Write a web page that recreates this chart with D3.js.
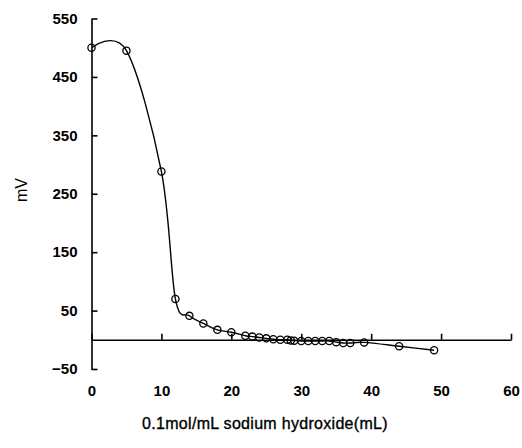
<!DOCTYPE html>
<html>
<head>
<meta charset="utf-8">
<script src="https://cdn.jsdelivr.net/npm/d3@7"></script>
<style>
  body { margin: 0; background: #fff; }
  svg { display: block; }
  .tick text, .label { font-family: "Liberation Sans", Arial, sans-serif; fill: #000; }
</style>
</head>
<body>
<svg id="chart" width="522" height="448"></svg>
<script>
// Titration curve: volume of NaOH added (mL) vs electrode potential (mV)
const volume = [0, 5, 10, 12, 14, 16, 18, 20, 22, 23, 24, 25, 26, 27, 28, 28.5, 29,
                30, 31, 32, 33, 34, 35, 36, 37, 39, 44, 49];
const potential = [500, 495, 288, 70, 41, 28, 17, 13, 7, 5.5, 4, 2.5, 1, 0, 0, -1, -1.5,
                   -2, -2, -2, -2, -2, -4, -5.5, -5.5, -4.5, -11, -18];
const xTicks = [0, 10, 20, 30, 40, 50, 60];
const yTicks = [-50, 50, 150, 250, 350, 450, 550];
const xTitle = "0.1mol/mL sodium hydroxide(mL)";
const yTitle = "mV";

const svg = d3.select("#chart");
const x = d3.scaleLinear().domain([0, 60]).range([91.5, 511]);
const y = d3.scaleLinear().domain([-50, 550]).range([369, 18.5]);

const points = volume.map((v, i) => [v, potential[i]]);

// y axis: ticks point inward
const yAxis = svg.append("g")
  .attr("transform", `translate(${x(0)},0)`)
  .call(d3.axisLeft(y).tickValues(yTicks).tickFormat(d3.format("d"))
    .tickSizeInner(-6).tickSizeOuter(0).tickPadding(14));
yAxis.select(".domain").attr("stroke", "#000").attr("stroke-width", 1.6);
yAxis.selectAll(".tick line").attr("stroke", "#000").attr("stroke-width", 1.6);
yAxis.selectAll(".tick text")
  .text(d => d < 0 ? "\u2212" + Math.abs(d) : d)
  .attr("font-size", 15).attr("font-weight", "bold");

// x axis sits on the 0 mV line, ticks point up, labels below the plot
const xAxis = svg.append("g")
  .attr("transform", `translate(0,${y(0)})`)
  .call(d3.axisBottom(x).tickValues(xTicks).tickFormat(d3.format("d"))
    .tickSizeInner(-6).tickSizeOuter(0).tickPadding(46));
xAxis.select(".domain").attr("stroke", "#000").attr("stroke-width", 1.6);
xAxis.selectAll(".tick line").attr("stroke", "#000").attr("stroke-width", 1.6);
xAxis.selectAll(".tick text").attr("font-size", 15).attr("font-weight", "bold");

// smoothed curve through the measurements
const line = d3.line().x(d => x(d[0])).y(d => y(d[1])).curve(d3.curveCardinal.tension(0));
svg.append("path").datum(points)
  .attr("d", line).attr("fill", "none").attr("stroke", "#000").attr("stroke-width", 1.4);

svg.append("g").selectAll("circle").data(points).join("circle")
  .attr("cx", d => x(d[0])).attr("cy", d => y(d[1])).attr("r", 3.6)
  .attr("fill", "none").attr("stroke", "#000").attr("stroke-width", 1.3);

svg.append("text").attr("class", "label")
  .attr("x", 265).attr("y", 429).attr("text-anchor", "middle")
  .attr("font-size", 16).attr("letter-spacing", 0.3)
  .attr("stroke", "#000").attr("stroke-width", 0.35).text(xTitle);

svg.append("text").attr("class", "label")
  .attr("transform", `translate(27,190) rotate(-90)`).attr("text-anchor", "middle")
  .attr("font-size", 16).text(yTitle);
</script>
</body>
</html>
